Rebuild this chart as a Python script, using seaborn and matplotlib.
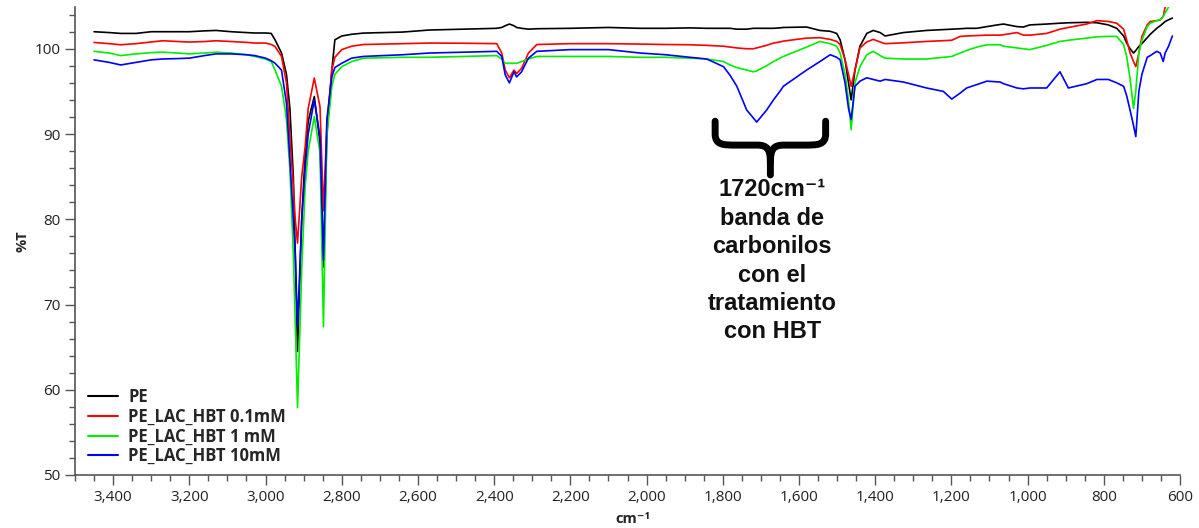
import numpy as np
import pandas as pd
import matplotlib
matplotlib.use("Agg")
import matplotlib.pyplot as plt
from matplotlib.path import Path
from matplotlib.patches import PathPatch
from matplotlib.ticker import FuncFormatter, MultipleLocator
import seaborn as sns

# ---------------- data ----------------
wavenumber = [3450, 3410, 3380, 3340, 3300, 3270, 3230, 3200, 3160, 3130, 3090, 3050, 3028, 3000,
              2985, 2975, 2958, 2945, 2936, 2927, 2922, 2916, 2905, 2896, 2888, 2872, 2857, 2848,
              2839, 2826, 2818, 2800, 2774, 2743, 2640, 2570, 2480, 2393, 2380, 2371, 2360, 2348,
              2341, 2328, 2310, 2288, 2200, 2100, 2017, 1950, 1886, 1842, 1798, 1781, 1763, 1737,
              1720, 1711, 1685, 1667, 1650, 1641, 1580, 1545, 1518, 1501, 1492, 1479, 1470, 1463,
              1453, 1440, 1422, 1405, 1387, 1374, 1326, 1265, 1221, 1199, 1177, 1160, 1133, 1107,
              1072, 1063, 1028, 1011, 994, 950, 915, 893, 845, 818, 788, 766, 748, 740, 731, 722,
              716, 708, 700, 686, 678, 661, 652, 644, 639, 630, 620]

pe = [102.0, 101.9, 101.8, 101.8, 102.0, 102.0, 102.0, 102.0, 102.1, 102.15, 102.0, 101.9, 101.85, 101.85,
      101.8, 101.05, 99.5, 97.0, 93.0, 85.0, 76.0, 64.5, 80.0, 87.5, 91.5, 94.4, 89.0, 74.4,
      90.0, 97.5, 101.05, 101.5, 101.7, 101.84, 101.96, 102.2, 102.3, 102.4, 102.5, 102.7, 102.9, 102.7,
      102.5, 102.4, 102.3, 102.35, 102.4, 102.5, 102.4, 102.4, 102.45, 102.4, 102.4, 102.4, 102.3, 102.3,
      102.4, 102.4, 102.4, 102.4, 102.45, 102.5, 102.55, 102.15, 102.05, 101.8, 101.05, 98.7, 96.0, 94.0,
      97.5, 100.3, 101.8, 102.15, 101.9, 101.5, 101.9, 102.15, 102.25, 102.3, 102.35, 102.4, 102.4, 102.6,
      102.85, 102.9, 102.6, 102.55, 102.8, 102.9, 103.0, 103.05, 103.1, 103.05, 102.8, 102.4, 101.5, 100.67, 100.0, 99.5,
      99.8, 100.27, 100.6, 101.3, 101.7, 102.4, 102.7, 103.0, 103.2, 103.4, 103.6]

hbt_01 = [100.74, 100.6, 100.47, 100.6, 100.8, 100.94, 100.85, 100.79, 100.85, 100.94, 100.85, 100.75, 100.67, 100.67,
          100.5, 100.27, 99.1, 96.0, 89.7, 83.8, 80.0, 77.2, 85.0, 88.5, 93.0, 96.56, 93.2, 81.0,
          91.0, 97.5, 99.0, 99.9, 100.3, 100.5, 100.6, 100.67, 100.65, 100.6, 99.5, 97.5, 96.6, 97.5,
          97.1, 97.7, 99.5, 100.5, 100.6, 100.6, 100.55, 100.5, 100.47, 100.4, 100.3, 100.2, 100.1, 100.0,
          100.0, 100.1, 100.4, 100.67, 100.8, 100.9, 101.25, 101.3, 101.1, 100.86, 100.5, 98.7, 97.0, 95.6,
          97.5, 100.1, 100.8, 101.1, 100.8, 100.6, 100.7, 100.86, 100.95, 101.0, 101.45, 101.5, 101.55, 101.6,
          101.6, 101.65, 101.9, 101.6, 101.6, 101.8, 102.3, 102.5, 102.9, 103.3, 103.2, 103.0, 102.3, 101.05, 99.5, 98.5,
          97.9, 99.5, 101.45, 102.8, 103.2, 103.3, 103.4, 103.8, 104.9, 105.3, 105.8]

hbt_1 = [99.7, 99.5, 99.2, 99.4, 99.55, 99.6, 99.5, 99.4, 99.5, 99.6, 99.5, 99.3, 99.1, 98.8,
         98.5, 97.5, 95.6, 91.7, 85.8, 76.0, 68.0, 57.9, 74.1, 83.8, 88.0, 92.05, 87.8, 67.4,
         89.7, 95.6, 97.0, 97.9, 98.5, 98.9, 99.0, 99.0, 99.1, 99.2, 98.8, 98.3, 98.3, 98.3,
         98.3, 98.5, 98.8, 99.1, 99.1, 99.1, 99.0, 99.0, 98.9, 98.8, 98.5, 98.1, 97.8, 97.5,
         97.3, 97.4, 98.0, 98.5, 98.9, 99.1, 100.2, 100.86, 100.6, 100.3, 99.5, 97.0, 94.0, 90.5,
         96.0, 97.9, 99.3, 99.7, 99.2, 98.9, 98.8, 98.8, 99.0, 99.1, 99.5, 99.8, 100.2, 100.47,
         100.47, 100.3, 100.1, 100.0, 99.9, 100.4, 100.86, 101.0, 101.25, 101.4, 101.45, 101.45, 100.5, 99.1, 96.5, 93.0,
         95.0, 99.5, 101.0, 102.6, 103.0, 103.3, 103.4, 103.8, 104.2, 104.9, 105.5]

hbt_10 = [98.7, 98.4, 98.1, 98.4, 98.7, 98.8, 98.85, 98.9, 99.2, 99.4, 99.4, 99.3, 99.2, 98.9,
          98.6, 98.3, 97.5, 93.6, 87.0, 80.0, 76.0, 67.4, 79.9, 86.0, 90.0, 94.0, 89.7, 75.2,
          91.7, 96.7, 97.8, 98.3, 98.9, 99.1, 99.3, 99.5, 99.6, 99.7, 99.1, 96.95, 96.0, 97.3,
          96.7, 97.3, 98.9, 99.7, 99.9, 99.9, 99.5, 99.3, 99.0, 98.8, 97.9, 96.9, 95.6, 92.8,
          91.9, 91.4, 92.8, 94.0, 95.0, 95.6, 97.5, 98.5, 99.3, 99.0, 98.7, 96.0, 93.0, 91.7,
          95.6, 96.2, 96.6, 96.4, 96.2, 96.4, 96.1, 95.4, 95.0, 94.1, 94.8, 95.4, 95.8, 96.2,
          96.1, 95.9, 95.4, 95.3, 95.4, 95.4, 97.3, 95.4, 95.9, 96.4, 96.4, 96.0, 95.6, 94.5, 92.8, 91.0,
          89.7, 95.0, 97.0, 99.0, 99.2, 99.7, 99.5, 98.5, 99.5, 100.3, 101.5]

series_names = ["PE", "PE_LAC_HBT 0.1mM", "PE_LAC_HBT 1 mM", "PE_LAC_HBT 10mM"]
series_values = [pe, hbt_01, hbt_1, hbt_10]
series_colors = ["#000000", "#ff0000", "#00ee00", "#0000ff"]

x_ticks = [3400, 3200, 3000, 2800, 2600, 2400, 2200, 2000, 1800, 1600, 1400, 1200, 1000, 800, 600]
y_ticks = [50, 60, 70, 80, 90, 100]

annotation_text = "1720cm\u207b\u00b9\nbanda de\ncarbonilos\ncon el\ntratamiento\ncon HBT"

# ---------------- build long table ----------------
frames = []
for name, vals in zip(series_names, series_values):
    frames.append(pd.DataFrame({"wn": wavenumber, "T": vals, "serie": name}))
df = pd.concat(frames, ignore_index=True)

sns.set_style("ticks")
plt.rcParams["font.family"] = ["Open Sans", "DejaVu Sans"]

fig = plt.figure(figsize=(11.99, 5.28), dpi=100)
ax = fig.add_axes([75 / 1199, 1 - 475 / 528, 1105 / 1199, 468 / 528])

sns.lineplot(data=df, x="wn", y="T", hue="serie", hue_order=series_names,
             palette=dict(zip(series_names, series_colors)), estimator=None,
             linewidth=1.2, ax=ax, legend=True)

ax.set_xlim(3500, 600)
ax.set_ylim(50, 104.9)
ax.set_xticks(x_ticks)
ax.set_yticks(y_ticks)
ax.xaxis.set_minor_locator(MultipleLocator(50))
ax.yaxis.set_minor_locator(MultipleLocator(2))
ax.xaxis.set_major_formatter(FuncFormatter(lambda v, p: f"{v:,.0f}"))
ax.tick_params(axis="both", which="major", length=7, width=1, color="#555555",
               labelsize=11, labelcolor="#222222")
ax.tick_params(axis="both", which="minor", length=4, width=1, color="#555555")
ax.tick_params(axis="x", pad=4)
for s in ["top", "right"]:
    ax.spines[s].set_visible(False)
for s in ["left", "bottom"]:
    ax.spines[s].set_color("#555555")
    ax.spines[s].set_linewidth(1.2)

ax.set_xlabel("cm\u207b\u00b9", fontsize=10.5, fontweight="bold")
ax.set_ylabel("%T", fontsize=10.5, fontweight="bold")
ax.xaxis.set_label_coords(0.505, -0.08)
ax.yaxis.set_label_coords(-0.041, 0.5)

leg = ax.legend(loc="lower left", bbox_to_anchor=(0.003, 0.0), frameon=False,
                prop={"weight": "bold", "size": 12}, handlelength=1.8,
                handletextpad=0.6, labelspacing=0.1, borderaxespad=0.2)
for line in leg.get_lines():
    line.set_linewidth(1.5)

# ---------------- curly brace annotation ----------------
xl, xr, xm = 1820, 1530, 1675
yt, yb, ytip = 91.5, 88.7, 85.2
left_half = Path([(xl, yt), (xl, yb + 1.3), (xl, yb), (xl - 22, yb), (xl - 55, yb),
                  (xm + 35, yb), (xm + 8, yb), (xm, yb - 0.5), (xm, yb - 2.0), (xm, ytip)],
                 [Path.MOVETO, Path.LINETO, Path.CURVE4, Path.CURVE4, Path.CURVE4,
                  Path.LINETO, Path.CURVE4, Path.CURVE4, Path.CURVE4, Path.LINETO])
right_half = Path([(xr, yt), (xr, yb + 1.3), (xr, yb), (xr + 22, yb), (xr + 55, yb),
                   (xm - 35, yb), (xm - 8, yb), (xm, yb - 0.5), (xm, yb - 2.0)],
                  [Path.MOVETO, Path.LINETO, Path.CURVE4, Path.CURVE4, Path.CURVE4,
                   Path.LINETO, Path.CURVE4, Path.CURVE4, Path.CURVE4])
for pth in (left_half, right_half):
    ax.add_patch(PathPatch(pth, facecolor="none", edgecolor="black", linewidth=5,
                           capstyle="round", joinstyle="round", zorder=5))

ax.text(xm - 5, 84.8, annotation_text, ha="center", va="top", fontsize=17,
        fontweight="bold", family=["Liberation Sans", "DejaVu Sans"], linespacing=1.3,
        color="#111111")

fig.savefig("out.png", dpi=100)
